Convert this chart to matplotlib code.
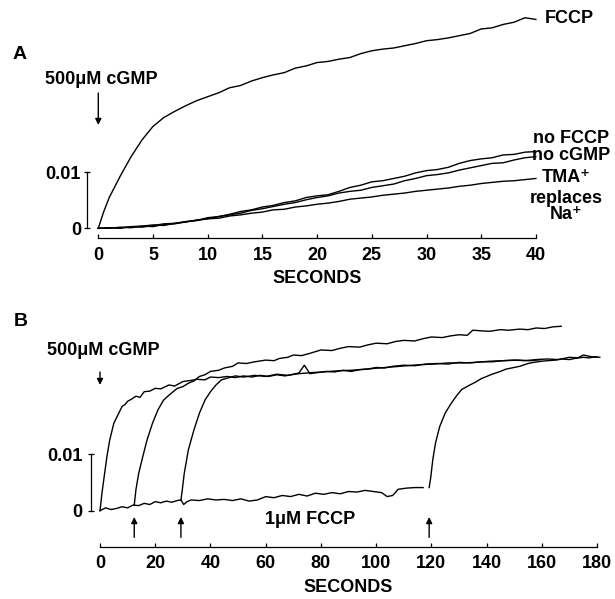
import numpy as np
import matplotlib
matplotlib.use('Agg')
from matplotlib import pyplot as plt

plt.rcParams['font.family'] = ['Liberation Sans', 'DejaVu Sans']
plt.rcParams['font.weight'] = 'bold'
plt.rcParams['font.size'] = 13

# ---- panel A: absorbance change vs time (s), 500uM cGMP added at 0
a_time = np.arange(0, 41)
a_fccp_time = [0, 0.5] + list(range(1, 41))
a_fccp = [0, 0.0030, 0.0055, 0.0093, 0.0128, 0.0158, 0.0182, 0.0198, 0.0209, 0.0219,
          0.0228, 0.0235, 0.0242, 0.0251, 0.0255, 0.0263, 0.0269, 0.0274, 0.0278, 0.0286,
          0.0290, 0.0296, 0.0298, 0.0302, 0.0305, 0.0312, 0.0317, 0.0320, 0.0322, 0.0326,
          0.0330, 0.0335, 0.0337, 0.0340, 0.0344, 0.0348, 0.0356, 0.0358, 0.0364, 0.0368,
          0.0376, 0.0373]
a_no_fccp = [0.0000, 0.0001, 0.0000, 0.0003, 0.0004, 0.0003, 0.0007, 0.0008, 0.0012, 0.0014,
             0.0019, 0.0021, 0.0025, 0.0030, 0.0033, 0.0038, 0.0041, 0.0046, 0.0049, 0.0055,
             0.0058, 0.0060, 0.0066, 0.0073, 0.0077, 0.0083, 0.0085, 0.0089, 0.0093, 0.0099,
             0.0103, 0.0105, 0.0109, 0.0116, 0.0121, 0.0124, 0.0126, 0.0131, 0.0132, 0.0136,
             0.0137]
a_no_cgmp = [0.0000, 0.0000, 0.0002, 0.0001, 0.0004, 0.0006, 0.0005, 0.0009, 0.0011, 0.0015,
             0.0017, 0.0021, 0.0024, 0.0027, 0.0032, 0.0035, 0.0039, 0.0043, 0.0046, 0.0051,
             0.0055, 0.0058, 0.0063, 0.0066, 0.0068, 0.0073, 0.0076, 0.0079, 0.0085, 0.0089,
             0.0094, 0.0096, 0.0099, 0.0104, 0.0108, 0.0112, 0.0116, 0.0117, 0.0122, 0.0126,
             0.0128]
a_tma = [0.0000, 0.0001, 0.0001, 0.0003, 0.0002, 0.0005, 0.0008, 0.0009, 0.0012, 0.0014,
         0.0017, 0.0018, 0.0022, 0.0024, 0.0027, 0.0029, 0.0033, 0.0034, 0.0038, 0.0040,
         0.0043, 0.0045, 0.0048, 0.0052, 0.0054, 0.0056, 0.0059, 0.0061, 0.0063, 0.0066,
         0.0068, 0.0070, 0.0072, 0.0075, 0.0077, 0.0080, 0.0082, 0.0084, 0.0085, 0.0087,
         0.0089]

# ---- panel B: 1uM FCCP added at 0, 12, 29 and 119 s
b_base_time = [0, 2, 4, 6, 8, 10, 12, 14, 16, 18, 20, 22, 24, 26, 28,
               29.3, 30.3, 31.5, 33, 36, 39, 42, 45, 48, 51, 54, 57, 60, 63, 66, 69, 72, 75,
               78, 81, 84, 87, 90, 93, 96, 99, 102, 104, 106, 108, 111, 114, 117]
b_base = [0, 0.0005, 0.0002, 0.0004, 0.0007, 0.0005, 0.0010, 0.0009, 0.0013, 0.0011,
          0.0016, 0.0014, 0.0017, 0.0015, 0.0018, 0.0019, 0.0011, 0.0016, 0.0019, 0.0018,
          0.0021, 0.0019, 0.0020, 0.0018, 0.0021, 0.0017, 0.0019, 0.0025, 0.0023, 0.0027,
          0.0025, 0.0029, 0.0026, 0.0031, 0.0029, 0.0032, 0.0030, 0.0034, 0.0033, 0.0036,
          0.0034, 0.0032, 0.0025, 0.0027, 0.0038, 0.0040, 0.0041, 0.0041]

b_f0_time = [0, 0.7, 1.5, 2.5, 3.5, 5, 6.5, 8, 9, 10, 11.5, 13, 14.5, 16, 18, 20, 22, 25, 27, 30,
             33, 35, 38, 40, 43, 46, 49, 52, 55, 58, 61, 64, 67, 70, 72, 74, 76, 79, 82, 85,
             88, 91, 94, 97, 100, 103, 106, 110, 114, 118, 122, 126, 130, 134, 138, 142, 146,
             150, 154, 158, 162, 166, 170, 173, 175, 178, 181]
b_f0 = [0, 0.0031, 0.0060, 0.0096, 0.0125, 0.0155, 0.0170, 0.0185, 0.0188, 0.0194,
        0.0198, 0.0203, 0.0201, 0.0211, 0.0212, 0.0217, 0.0216, 0.0223, 0.0221, 0.0229,
        0.0231, 0.0233, 0.0232, 0.0237, 0.0236, 0.0238, 0.0236, 0.0239, 0.0237, 0.0240,
        0.0238, 0.0241, 0.0239, 0.0242, 0.0244, 0.0258, 0.0243, 0.0245, 0.0247, 0.0246,
        0.0249, 0.0247, 0.0250, 0.0251, 0.0254, 0.0253, 0.0256, 0.0258, 0.0257, 0.0260,
        0.0261, 0.0260, 0.0263, 0.0262, 0.0264, 0.0264, 0.0266, 0.0267, 0.0266, 0.0268,
        0.0269, 0.0268, 0.0272, 0.0271, 0.0276, 0.0273, 0.0272]

b_f12_time = [12.4, 13, 14, 15.5, 17, 19, 21, 23, 25, 28, 30, 32, 34, 36, 38, 40, 43, 45, 48, 50,
              53, 56, 60, 63, 65, 68, 70, 73, 76, 80, 84, 87, 90, 94, 97, 100, 104, 107, 110,
              114, 117, 120, 124, 127, 130, 133, 135, 138, 141, 145, 148, 152, 155, 158, 161,
              164, 167]
b_f12 = [0.0010, 0.0037, 0.0066, 0.0096, 0.0125, 0.0155, 0.0179, 0.0196, 0.0205, 0.0217,
         0.0220, 0.0226, 0.0230, 0.0238, 0.0241, 0.0247, 0.0249, 0.0253, 0.0256, 0.0262,
         0.0261, 0.0264, 0.0267, 0.0266, 0.0270, 0.0272, 0.0276, 0.0275, 0.0279, 0.0285,
         0.0284, 0.0288, 0.0291, 0.0290, 0.0294, 0.0297, 0.0296, 0.0300, 0.0302, 0.0301,
         0.0305, 0.0308, 0.0307, 0.0310, 0.0312, 0.0311, 0.0320, 0.0319, 0.0318, 0.0321,
         0.0320, 0.0322, 0.0321, 0.0324, 0.0323, 0.0326, 0.0327]

b_f29_time = [29.3, 29.8, 30.5, 32, 34, 36, 38, 40, 42, 44, 46, 49, 52, 56, 60, 64, 68, 72, 77,
              81, 86, 91, 96, 101, 106, 111, 116, 121, 126, 131, 136, 141, 146, 151, 156, 160]
b_f29 = [0.0019, 0.0037, 0.0066, 0.0108, 0.0143, 0.0173, 0.0196, 0.0211, 0.0223, 0.0232,
         0.0235, 0.0239, 0.0237, 0.0240, 0.0238, 0.0242, 0.0240, 0.0243, 0.0245, 0.0246,
         0.0248, 0.0249, 0.0251, 0.0253, 0.0255, 0.0257, 0.0259, 0.0260, 0.0262, 0.0262,
         0.0263, 0.0265, 0.0266, 0.0267, 0.0266, 0.0268]

b_f119_time = [119.2, 119.8, 120.5, 121.5, 123, 125, 127, 129, 131, 134, 136, 138, 140, 142,
               145, 147, 150, 152, 155, 157, 160, 162, 165, 167, 170, 172, 175, 177, 180]
b_f119 = [0.0041, 0.0060, 0.0090, 0.0120, 0.0149, 0.0173, 0.0189, 0.0203, 0.0215, 0.0223,
          0.0228, 0.0234, 0.0238, 0.0242, 0.0247, 0.0251, 0.0254, 0.0256, 0.0261, 0.0263,
          0.0265, 0.0266, 0.0267, 0.0269, 0.0268, 0.0270, 0.0272, 0.0271, 0.0273]

fccp_times = [12.4, 29.3, 119.2]

fig = plt.figure(figsize=(6.15, 5.99), dpi=100)
axA = fig.add_axes([0, 1 - 300 / 599, 1, 300 / 599])
axB = fig.add_axes([0, 0, 1, 299 / 599])

lw = 1.0
tw = 0.9

# ---------------- panel A
axA.set_xlim(-8.985, 47.23)
axA.set_ylim(-0.0128, 0.04077)
axA.plot(a_fccp_time, a_fccp, color='black', lw=lw)
axA.plot(a_time, a_no_fccp, color='black', lw=lw)
axA.plot(a_time, a_no_cgmp, color='black', lw=lw)
axA.plot(a_time, a_tma, color='black', lw=lw)

# ---------------- panel B
axB.set_xlim(-36.22, 186.5)
axB.set_ylim(-0.01566, 0.03736)
axB.plot(b_base_time, b_base, color='black', lw=lw)
axB.plot(b_f0_time, b_f0, color='black', lw=lw)
axB.plot(b_f12_time, b_f12, color='black', lw=lw)
axB.plot(b_f29_time, b_f29, color='black', lw=lw)
axB.plot(b_f119_time, b_f119, color='black', lw=lw)

for ax, ybase, xbar, xmax, step, xpad, ypad in [
        (axA, -0.00168, -1.0, 40, 5, 6.5, 2.5),
        (axB, -0.00644, -3.26, 180, 20, 6.0, 4.0)]:
    ax.patch.set_alpha(0)
    ax.spines[['top', 'right']].set_visible(False)
    ax.spines['bottom'].set_position(('data', ybase))
    ax.spines['bottom'].set_bounds(0, xmax)
    ax.spines['left'].set_position(('data', xbar))
    ax.spines['left'].set_bounds(0, 0.01)
    for s in ('bottom', 'left'):
        ax.spines[s].set_linewidth(tw)
    ax.set_xticks(range(0, xmax + 1, step))
    ax.set_xticks([0, xmax], minor=True)
    ax.set_yticks([0, 0.01])
    ax.set_yticklabels(['0', '0.01'])
    ax.tick_params(axis='x', direction='in', length=3, width=tw, pad=xpad, labelsize=13)
    ax.tick_params(axis='x', which='minor', direction='in', length=5, width=tw)
    ax.tick_params(axis='y', direction='inout', length=4, width=tw, pad=ypad, labelsize=13)
    ax.text(xmax / 2, ybase - 0.0072, 'SECONDS', ha='center', va='center', fontsize=13)

arrow = dict(arrowstyle='-|>', lw=1.0, color='black', mutation_scale=9,
             shrinkA=0, shrinkB=0)

# labels panel A
axA.text(-7.16, 0.03095, 'A', ha='center', va='center', fontsize=14)
axA.text(0.25, 0.02666, '500μM cGMP', ha='center', va='center', fontsize=13)
axA.annotate('', xy=(0, 0.01845), xytext=(0, 0.02416), arrowprops=arrow)
axA.text(40.8, 0.03746, 'FCCP', ha='left', va='center', fontsize=13)
axA.text(43.2, 0.01604, 'no FCCP', ha='center', va='center', fontsize=13)
axA.text(43.2, 0.01309, 'no cGMP', ha='center', va='center', fontsize=13)
axA.text(42.8, 0.00916, 'TMA⁺', ha='center', va='center', fontsize=13)
axA.text(42.8, 0.00541, 'replaces', ha='center', va='center', fontsize=13)
axA.text(42.8, 0.00238, 'Na⁺', ha='center', va='center', fontsize=13)

# labels panel B
axB.text(-28.6, 0.03346, 'B', ha='center', va='center', fontsize=14)
axB.text(1.1, 0.02849, '500μM cGMP', ha='center', va='center', fontsize=13)
axB.annotate('', xy=(0, 0.02229), xytext=(0, 0.02459), arrowprops=arrow)
for t in fccp_times:
    axB.annotate('', xy=(t, -0.00112), xytext=(t, -0.00473), arrowprops=arrow)
axB.text(76, -0.00165, '1μM FCCP', ha='center', va='center', fontsize=13)

fig.savefig('out.png', dpi=100, facecolor='white')
